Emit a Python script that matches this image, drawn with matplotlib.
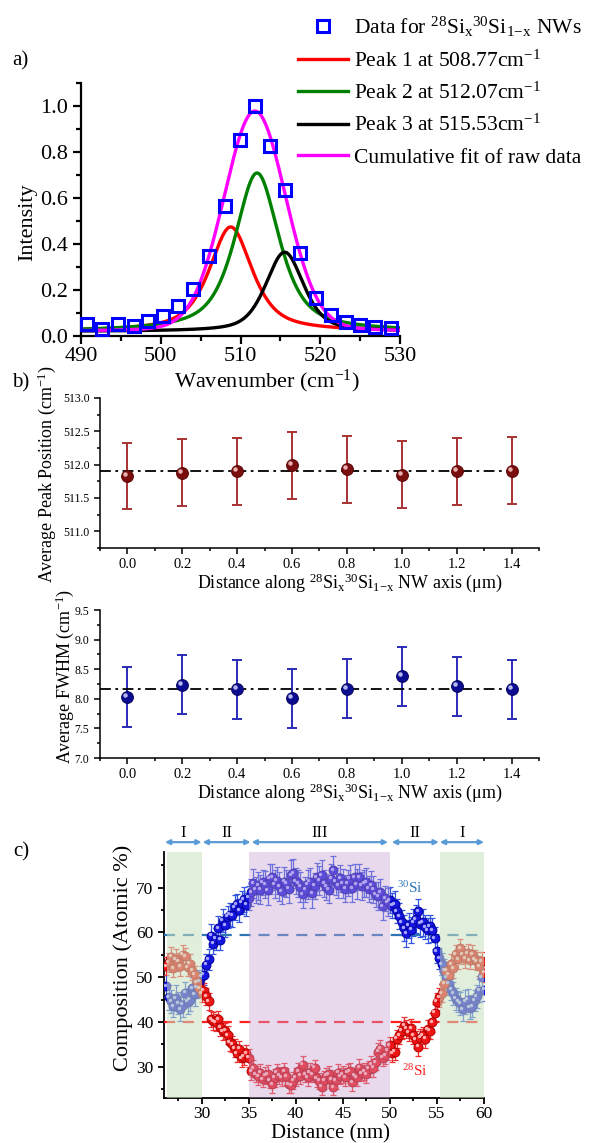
import numpy as np
import matplotlib
matplotlib.use('Agg')
import matplotlib.pyplot as plt
from matplotlib import transforms
from matplotlib.ticker import MultipleLocator, FixedLocator

plt.rcParams['font.family'] = ['Liberation Serif', 'DejaVu Serif']
plt.rcParams['mathtext.fontset'] = 'custom'
plt.rcParams['mathtext.rm'] = 'Liberation Serif'
plt.rcParams['mathtext.it'] = 'Liberation Serif:italic'
plt.rcParams['mathtext.bf'] = 'Liberation Serif:bold'

# ---------------- Panel a data ----------------
raman_wavenumber = [490.75, 492.6, 494.7, 496.6, 498.4, 500.3, 502.2, 504.1, 506.0, 508.1,
                    509.9, 511.8, 513.7, 515.6, 517.5, 519.4, 521.3, 523.2, 525.0, 526.9, 528.8]
raman_intensity = [0.051, 0.029, 0.051, 0.043, 0.065, 0.087, 0.130, 0.203, 0.348, 0.568,
                   0.855, 1.000, 0.826, 0.638, 0.360, 0.165, 0.090, 0.060, 0.050, 0.040, 0.035]
fit_labels = ['Peak 1 at 508.77cm$^{-1}$', 'Peak 2 at 512.07cm$^{-1}$',
              'Peak 3 at 515.53cm$^{-1}$', 'Cumulative fit of raw data']
fit_colors = ['#FF0000', '#008000', '#000000', '#FF00FF']
fit_centers = [508.77, 512.07, 515.53, 511.80]
fit_heights = [0.455, 0.690, 0.345, 0.960]
fit_fwhm = [6.4, 6.6, 5.6, 9.2]
fit_lorentz_fraction = [0.7, 0.7, 0.5, 0.1]
fit_baseline = 0.02

# ---------------- Panel b data ----------------
nw_distance = [0.0, 0.2, 0.4, 0.6, 0.8, 1.0, 1.2, 1.4]
peak_position = [511.83, 511.88, 511.90, 511.99, 511.93, 511.85, 511.90, 511.91]
peak_position_err = [0.50, 0.50, 0.50, 0.50, 0.50, 0.50, 0.50, 0.50]
peak_position_mean = 511.90
fwhm_values = [8.03, 8.24, 8.16, 8.01, 8.17, 8.38, 8.21, 8.16]
fwhm_err = [0.50, 0.50, 0.50, 0.50, 0.50, 0.50, 0.50, 0.50]
fwhm_mean = 8.16

# ---------------- Panel c data ----------------
comp_distance = np.round(np.arange(26.25, 60.001, 0.25), 2)
si30 = [48.0, 45.5, 44.6, 43.5, 45.3, 44.2, 42.8, 43.8, 46.5, 44.5, 45.0, 47.5, 46.2, 47.8, 49.0, 50.2,
        50.5, 52.8, 54.0, 59.3, 57.5, 58.6, 60.9, 58.4, 62.6, 61.6, 63.5, 64.0, 63.8, 65.6, 66.3, 65.0,
        66.7, 67.4, 66.2, 67.8,
        69.0, 71.0, 69.5, 70.4, 69.6, 71.2, 70.7, 69.4, 72.0, 72.4, 70.8, 71.6, 70.3, 69.2, 71.4, 71.0,
        69.8, 72.8, 73.2, 71.5, 71.0, 70.2, 68.5, 69.6, 70.8, 71.4, 68.8, 70.5, 72.4, 71.6, 72.8, 71.0,
        70.2, 69.6, 72.0, 73.9, 71.4, 70.6, 72.1, 71.0, 69.8, 71.0, 72.0, 69.9, 72.4, 70.8, 72.4, 70.4,
        71.0, 71.2, 69.8, 70.6, 69.6, 68.4, 68.1, 69.0, 65.9, 67.7, 66.8, 67.2,
        66.0, 66.3, 64.8, 63.6, 62.3, 61.0, 59.8, 61.6, 60.6, 62.2, 63.0, 64.8, 62.0, 62.3, 61.2, 60.5,
        61.4, 60.5, 58.7, 55.8,
        54.2, 52.9, 51.4, 50.0, 48.5, 47.2, 46.4, 45.2, 44.6, 44.2, 42.8, 44.5, 45.0, 43.2, 43.5, 44.8,
        45.7, 47.0, 50.0, 47.2]
si28 = [52.5, 53.3, 54.6, 52.0, 54.0, 53.5, 52.5, 55.0, 54.7, 52.2, 53.0, 51.4, 50.5, 48.9, 47.5, 46.4,
        47.0, 45.7, 44.6, 40.6, 40.2, 39.9, 40.6, 38.8, 37.9, 38.0, 37.0, 35.5, 35.0, 34.1, 33.0, 34.0,
        31.9, 32.2, 33.0, 32.0,
        29.0, 29.6, 28.3, 27.8, 28.6, 27.2, 28.0, 28.3, 27.0, 26.1, 27.5, 28.7, 28.0, 27.6, 29.0, 27.8,
        26.1, 25.8, 26.8, 27.6, 29.0, 28.0, 30.4, 28.3, 27.6, 28.8, 28.3, 29.7, 27.4, 26.8, 25.5, 27.0,
        28.0, 28.3, 27.2, 25.4, 27.0, 28.6, 27.9, 28.3, 27.6, 28.8, 29.0, 26.5, 28.0, 27.6, 29.7, 28.5,
        29.0, 28.3, 29.5, 30.4, 29.7, 31.0, 33.3, 34.0, 32.0, 32.6, 33.5, 34.8,
        33.0, 33.3, 36.2, 37.0, 38.0, 39.1, 38.5, 37.7, 38.6, 37.0, 36.0, 34.4, 36.5, 37.0, 36.2, 38.4,
        38.0, 39.9, 42.0, 44.5,
        45.5, 46.4, 48.5, 51.4, 50.5, 52.9, 52.0, 55.1, 54.0, 56.5, 55.0, 54.2, 55.4, 53.8, 55.1, 54.0,
        53.6, 52.5, 53.6, 51.0]
si30_err = [2.5, 2.8, 2.6, 2.4, 2.9, 2.5, 2.7, 2.6, 2.4, 2.8, 2.5, 2.6, 2.7, 2.5, 2.6, 2.4,
            2.3, 2.5, 2.4, 2.6, 2.3, 2.5, 2.7, 2.4, 2.6, 2.5, 2.4, 2.6, 2.5, 2.7, 2.4, 2.6,
            2.5, 2.8, 2.6, 2.7,
            3.0, 3.2, 2.9, 3.1, 3.3, 2.8, 3.0, 3.2, 3.4, 2.9, 3.1, 3.0, 3.3, 2.8, 3.2, 3.0,
            3.1, 3.4, 3.2, 2.9, 3.0, 3.3, 3.1, 2.8, 3.2, 3.0, 3.3, 2.9, 3.1, 3.2, 3.4, 3.0,
            2.9, 3.1, 3.3, 3.2, 3.0, 2.8, 3.1, 3.3, 3.0, 2.9, 3.2, 3.1, 3.0, 3.3, 2.9, 3.1,
            3.0, 3.2, 2.9, 3.1, 3.0, 2.8, 3.1, 2.9, 3.0, 2.8, 3.1, 2.9,
            2.8, 3.0, 2.7, 2.9, 2.8, 3.0, 3.1, 2.8, 2.9, 3.0, 3.2, 2.8, 2.9, 3.0, 2.7, 2.8,
            2.6, 2.7, 2.5, 2.6,
            2.4, 2.5, 2.6, 2.4, 2.5, 2.3, 2.6, 2.5, 2.4, 2.6, 2.5, 2.7, 2.4, 2.6, 2.5, 2.4,
            2.6, 2.5, 2.7, 2.5]
si28_err = [2.0, 2.2, 2.1, 1.9, 2.3, 2.0, 2.2, 2.1, 1.9, 2.0, 2.2, 2.0, 1.9, 2.1, 2.0, 1.9,
            1.8, 2.0, 1.9, 1.8, 2.0, 1.9, 1.8, 2.0, 1.9, 1.8, 2.0, 1.9, 1.8, 2.0, 1.9, 1.8,
            2.0, 1.9, 1.8, 2.0,
            1.9, 2.0, 1.8, 1.9, 2.0, 1.8, 1.9, 2.0, 1.8, 1.9, 2.0, 1.8, 1.9, 2.0, 1.8, 1.9,
            2.0, 1.8, 1.9, 2.0, 1.8, 1.9, 2.0, 1.8, 1.9, 2.0, 1.8, 1.9, 2.0, 1.8, 1.9, 2.0,
            1.8, 1.9, 2.0, 1.8, 1.9, 2.0, 1.8, 1.9, 2.0, 1.8, 1.9, 2.0, 1.8, 1.9, 2.0, 1.8,
            1.9, 2.0, 1.8, 1.9, 2.0, 1.8, 1.9, 2.0, 1.8, 1.9, 2.0, 1.8,
            2.0, 1.9, 2.1, 2.0, 1.9, 2.1, 2.0, 1.9, 2.1, 2.0, 1.9, 2.1, 2.0, 1.9, 2.1, 2.0,
            1.9, 2.1, 2.0, 1.9,
            2.1, 2.0, 2.2, 2.1, 2.0, 2.2, 2.1, 2.0, 2.2, 2.1, 2.0, 2.2, 2.1, 2.0, 2.2, 2.1,
            2.0, 2.2, 2.1, 2.0]
si30_reference = 59.5
si28_reference = 40.0
region_labels = ['I', 'II', 'III', 'II', 'I']
region_bounds = [(26.1, 30.0), (30.1, 35.2), (35.3, 49.8), (50.2, 55.2), (55.3, 60.0)]
green_regions = [(26.3, 30.0), (55.3, 60.0)]
purple_region = (35.0, 50.0)


def pvoigt(x, c, h, w, eta, base):
    g = np.exp(-4 * np.log(2) * ((x - c) / w) ** 2)
    l = 1.0 / (1.0 + 4 * ((x - c) / w) ** 2)
    return base + h * (eta * l + (1 - eta) * g)


fig = plt.figure(figsize=(5.91, 11.43), dpi=100)


def spheres(ax, x, y, face, edge, light, ms, z=5, alpha=1.0):
    ax.plot(x, y, 'o', ms=ms, mfc=face, mec=edge, mew=0.7, ls='none', zorder=z, alpha=alpha)
    off = transforms.offset_copy(ax.transData, fig=ax.figure, x=-ms * 0.17, y=ms * 0.17, units='points')
    ax.plot(x, y, 'o', ms=ms * 0.38, mfc=light, mec='none', ls='none', transform=off,
            zorder=z + 0.1, alpha=alpha)


def style_axes(ax, lw=1.3):
    for s in ['top', 'right']:
        ax.spines[s].set_visible(False)
    for s in ['left', 'bottom']:
        ax.spines[s].set_linewidth(lw)
    ax.tick_params(which='both', direction='out', width=lw)


# ================= Panel a =================
ax1 = fig.add_axes([0.137, 0.706, 0.540, 0.221])
style_axes(ax1, 1.6)
xx = np.linspace(490, 530, 801)
handles = []
for lab, col, c, h, w, eta in zip(fit_labels, fit_colors, fit_centers, fit_heights,
                                  fit_fwhm, fit_lorentz_fraction):
    ln, = ax1.plot(xx, pvoigt(xx, c, h, w, eta, fit_baseline), color=col, lw=2.4, label=lab, zorder=3)
    handles.append(ln)
sq, = ax1.plot(raman_wavenumber, raman_intensity, 's', ms=8.5, mfc='none', mec='#0000FF', mew=2.2,
               ls='none', zorder=4, clip_on=False,
               label=r'Data for $^{28}\mathrm{Si}_{\mathrm{x}}{}^{30}\mathrm{Si}_{\mathrm{1\!-\!x}}$ NWs')
ax1.set_xlim(490, 530)
ax1.set_ylim(0, 1.1)
ax1.xaxis.set_major_locator(MultipleLocator(10))
ax1.xaxis.set_minor_locator(MultipleLocator(5))
ax1.yaxis.set_major_locator(FixedLocator([0.0, 0.2, 0.4, 0.6, 0.8, 1.0]))
ax1.yaxis.set_minor_locator(FixedLocator([0.1, 0.3, 0.5, 0.7, 0.9, 1.1]))
ax1.yaxis.set_major_formatter(matplotlib.ticker.FormatStrFormatter('%.1f'))
ax1.tick_params(which='major', length=6, labelsize=16)
ax1.tick_params(which='minor', length=3.5)
ax1.tick_params(axis='x', pad=2)
ax1.set_xlabel('Wavenumber (cm$^{-1}$)', fontsize=16)
ax1.set_ylabel('Intensity', fontsize=16)
ax1.xaxis.set_label_coords(0.583, -0.178)
ax1.xaxis.label.set_verticalalignment('center')
ax1.yaxis.set_label_coords(-0.166, 0.45)
ax1.yaxis.label.set_verticalalignment('center')
fig.legend(handles=[sq] + handles, loc='upper left', bbox_to_anchor=(0.504, 0.987),
           frameon=False, fontsize=15.5, handlelength=2.35, handletextpad=0.25,
           labelspacing=0.52, borderpad=0, borderaxespad=0)
fig.text(20 / 591, 1 - 61 / 1143, 'a)', fontsize=15, ha='center', va='center')

# ================= Panel b (top) =================
ax2 = fig.add_axes([0.169, 0.5206, 0.743, 0.1312])
style_axes(ax2, 1.1)
ax2.errorbar(nw_distance, peak_position, yerr=peak_position_err, fmt='none', ecolor='#A83232',
             elinewidth=1.4, capsize=3.6, capthick=1.4, zorder=3)
ax2.plot([-0.1, 1.4], [peak_position_mean, peak_position_mean], color='black', lw=1.3,
         ls=(0, (6, 2.5, 1.5, 2.5)), zorder=4)
spheres(ax2, nw_distance, peak_position, '#7A0E0E', '#5A0505', '#E8B0B0', 8.5, z=5)
ax2.set_xlim(-0.1, 1.5)
ax2.set_ylim(510.75, 513.0)
ax2.xaxis.set_major_locator(MultipleLocator(0.2))
ax2.xaxis.set_minor_locator(MultipleLocator(0.1))
ax2.yaxis.set_major_locator(MultipleLocator(0.5))
ax2.yaxis.set_minor_locator(MultipleLocator(0.25))
ax2.xaxis.set_major_formatter(matplotlib.ticker.FormatStrFormatter('%.1f'))
ax2.yaxis.set_major_formatter(matplotlib.ticker.FormatStrFormatter('%.1f'))
ax2.tick_params(which='major', length=4)
ax2.tick_params(which='minor', length=2.5)
ax2.tick_params(axis='x', labelsize=10.5)
ax2.tick_params(axis='y', labelsize=8.5)
ax2.set_xlabel(r'Distance along $^{28}\mathrm{Si}_{\mathrm{x}}{}^{30}\mathrm{Si}_{\mathrm{1\!-\!x}}$ NW axis ($\mathrm{\mu}$m)',
               fontsize=13)
ax2.set_ylabel('Average Peak Position (cm$^{-1}$)', fontsize=13)
ax2.xaxis.set_label_coords(0.57, -0.233)
ax2.xaxis.label.set_verticalalignment('center')
ax2.yaxis.set_label_coords(-0.121, 0.49)
ax2.yaxis.label.set_verticalalignment('center')
fig.text(21 / 591, 1 - 383 / 1143, 'b)', fontsize=15, ha='center', va='center')

# ================= Panel b (bottom) =================
ax3 = fig.add_axes([0.169, 0.3368, 0.743, 0.1295])
style_axes(ax3, 1.1)
ax3.errorbar(nw_distance, fwhm_values, yerr=fwhm_err, fmt='none', ecolor='#2B2BB8',
             elinewidth=1.4, capsize=3.6, capthick=1.4, zorder=3)
ax3.plot([-0.1, 1.4], [fwhm_mean, fwhm_mean], color='black', lw=1.3,
         ls=(0, (6, 2.5, 1.5, 2.5)), zorder=4)
spheres(ax3, nw_distance, fwhm_values, '#0C0C90', '#050560', '#B8B8F0', 8.5, z=5)
ax3.set_xlim(-0.1, 1.5)
ax3.set_ylim(7.0, 9.5)
ax3.xaxis.set_major_locator(MultipleLocator(0.2))
ax3.xaxis.set_minor_locator(MultipleLocator(0.1))
ax3.yaxis.set_major_locator(MultipleLocator(0.5))
ax3.yaxis.set_minor_locator(MultipleLocator(0.25))
ax3.xaxis.set_major_formatter(matplotlib.ticker.FormatStrFormatter('%.1f'))
ax3.yaxis.set_major_formatter(matplotlib.ticker.FormatStrFormatter('%.1f'))
ax3.tick_params(which='major', length=4)
ax3.tick_params(which='minor', length=2.5)
ax3.tick_params(axis='x', labelsize=10.5)
ax3.tick_params(axis='y', labelsize=8.5)
ax3.set_xlabel(r'Distance along $^{28}\mathrm{Si}_{\mathrm{x}}{}^{30}\mathrm{Si}_{\mathrm{1\!-\!x}}$ NW axis ($\mathrm{\mu}$m)',
               fontsize=13)
ax3.set_ylabel('Average FWHM (cm$^{-1}$)', fontsize=13)
ax3.xaxis.set_label_coords(0.57, -0.236)
ax3.xaxis.label.set_verticalalignment('center')
ax3.yaxis.set_label_coords(-0.08, 0.554)
ax3.yaxis.label.set_verticalalignment('center')

# ================= Panel c =================
ax4 = fig.add_axes([0.2775, 0.0394, 0.5415, 0.2152])
style_axes(ax4, 1.3)
ax4.errorbar(comp_distance, si30, yerr=si30_err, fmt='none', ecolor='#3355E0', elinewidth=0.9,
             capsize=2.2, capthick=0.9, zorder=3)
ax4.errorbar(comp_distance, si28, yerr=si28_err, fmt='none', ecolor='#F03030', elinewidth=0.9,
             capsize=2.2, capthick=0.9, zorder=3)
spheres(ax4, comp_distance, si30, '#1515E0', '#0000A0', '#A8A8FF', 6.4, z=4)
spheres(ax4, comp_distance, si28, '#F01515', '#B00000', '#FFB0B0', 6.4, z=4)
ax4.axhline(si30_reference, color='#2E75B6', lw=1.6, ls=(0, (5, 3.5)), zorder=3.5)
ax4.axhline(si28_reference, color='#FF2020', lw=1.6, ls=(0, (5, 3.5)), zorder=3.5)
for a, b in green_regions:
    ax4.axvspan(a, b, facecolor='#C8E1BE', alpha=0.55, lw=0, zorder=6)
ax4.axvspan(purple_region[0], purple_region[1], facecolor='#C8A0D2', alpha=0.4, lw=0, zorder=6)
ax4.set_xlim(26, 60)
ax4.set_ylim(23, 78)
ax4.xaxis.set_major_locator(MultipleLocator(5))
ax4.xaxis.set_minor_locator(MultipleLocator(2.5))
ax4.yaxis.set_major_locator(FixedLocator([30, 40, 50, 60, 70]))
ax4.yaxis.set_minor_locator(FixedLocator([25, 35, 45, 55, 65, 75]))
ax4.tick_params(which='major', length=4, labelsize=12.5)
ax4.tick_params(which='minor', length=2.5)
ax4.tick_params(axis='x', pad=1.5)
ax4.set_xlabel('Distance (nm)', fontsize=15)
ax4.set_ylabel('Composition (Atomic %)', fontsize=16)
ax4.xaxis.set_label_coords(0.519, -0.147)
ax4.xaxis.label.set_verticalalignment('center')
ax4.yaxis.set_label_coords(-0.128, 0.571)
ax4.yaxis.label.set_verticalalignment('center')
ax4.text(50.8, 70.0, r'$^{30}$Si', color='#2E75B6', fontsize=11, ha='left', va='center', zorder=7)
ax4.text(51.3, 29.0, r'$^{28}$Si', color='#FF2020', fontsize=11, ha='left', va='center', zorder=7)
for lab, (a, b) in zip(region_labels, region_bounds):
    ax4.annotate('', xy=(b, 1.04), xytext=(a, 1.04), xycoords=('data', 'axes fraction'),
                 textcoords=('data', 'axes fraction'),
                 arrowprops=dict(arrowstyle='<|-|>', color='#5B9BD5', lw=1.6,
                                 mutation_scale=7, shrinkA=0, shrinkB=0),
                 annotation_clip=False)
    ax4.text((a + b) / 2, 1.078, lab, transform=ax4.get_xaxis_transform(), ha='center',
             va='center', fontsize=12)
fig.text(21 / 591, 1 - 852 / 1143, 'c)', fontsize=15, ha='center', va='center')

fig.savefig('out.png', dpi=100)
